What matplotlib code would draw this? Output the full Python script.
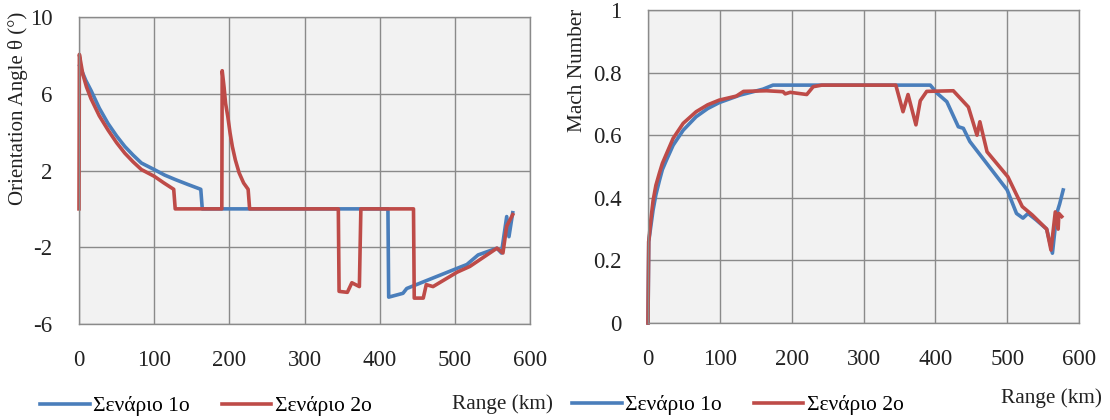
import matplotlib
matplotlib.use("Agg")
import matplotlib.pyplot as plt

plt.rcParams['font.family'] = ['Liberation Serif', 'DejaVu Serif']
plt.rcParams['font.size'] = 15
plt.rcParams['axes.unicode_minus'] = False

# ----------------------------
# DATOS: ángulo de orientación
# ----------------------------
ang_x1 = [1, 2.7, 9, 16, 27, 38.6, 50, 61, 72, 83, 100, 114, 128, 145, 162,
          164, 411, 412, 431, 436, 503, 516, 531, 556, 562, 569, 572, 577]
ang_y1 = [7.45, 7.29, 6.7, 6.17, 5.25, 4.45, 3.8, 3.25, 2.8, 2.39, 2.05, 1.76,
          1.53, 1.27, 1.02, 0, 0, -4.6, -4.4, -4.15, -3.1, -2.9, -2.4, -2.05,
          -2.3, -0.4, -1.45, -0.2]

ang_x2 = [0, 0.5, 5, 10, 16, 27, 38.6, 50, 61, 72, 83, 100, 113, 126, 128,
          190, 190.5, 193, 195, 198, 201, 204, 208, 213, 219, 225, 227, 345,
          346, 357, 363, 373, 375, 445, 446, 458, 462, 471, 503, 520, 556,
          564, 569, 573, 577]
ang_y2 = [0, 8.05, 7.03, 6.35, 5.74, 4.85, 4.11, 3.45, 2.9, 2.45, 2.05, 1.7,
          1.35, 1.02, 0, 0, 7.2, 6.34, 5.5, 4.8, 3.95, 3.25, 2.55, 1.88, 1.35,
          1.02, 0, 0, -4.3, -4.35, -3.85, -4.05, 0, 0, -4.65, -4.65, -3.95,
          -4.05, -3.3, -3.0, -2.05, -2.3, -0.9, -0.6, -0.3]

# ----------------------------
# DATOS: número de Mach
# ----------------------------
mach_x1 = [0, 1, 4, 7, 11, 16, 20, 25.6, 35, 49, 67, 83, 99, 128, 160, 174,
           393, 402, 416, 432, 439, 448, 500, 513, 522, 529, 540, 555, 563,
           569, 573, 578]
mach_y1 = [0, 0.26, 0.31, 0.36, 0.41, 0.456, 0.49, 0.52, 0.568, 0.616,
           0.659, 0.685, 0.704, 0.728, 0.747, 0.76, 0.76, 0.735, 0.707, 0.627,
           0.622, 0.58, 0.425, 0.35, 0.335, 0.35, 0.33, 0.3, 0.223, 0.35,
           0.38, 0.425]

mach_x2 = [0, 1, 4, 7, 11, 16, 20, 25.6, 35, 49, 67, 83, 99, 123, 133, 165,
           188, 191, 198, 221, 230, 242, 345, 355, 362, 373, 379, 388, 425,
           446, 458, 462, 472, 501, 521, 535, 555, 561, 567, 571, 572, 576]
mach_y2 = [0, 0.26, 0.33, 0.39, 0.44, 0.48, 0.51, 0.54, 0.59, 0.638, 0.675,
           0.697, 0.712, 0.725, 0.74, 0.742, 0.739, 0.732, 0.737, 0.73, 0.755,
           0.76, 0.76, 0.675, 0.73, 0.633, 0.71, 0.74, 0.742, 0.69, 0.6,
           0.643, 0.547, 0.467, 0.372, 0.345, 0.3, 0.233, 0.355, 0.3, 0.35,
           0.34]

etiquetas = ["Σενάριο 1ο", "Σενάριο 2ο"]
x_ticks = [0, 100, 200, 300, 400, 500, 600]
ang_ticks = [-6, -2, 2, 6, 10]
mach_ticks = [0, 0.2, 0.4, 0.6, 0.8, 1]
mach_labels = ["0", "0.2", "0.4", "0.6", "0.8", "1"]

AZUL = "#4A7EBB"
ROJO = "#BE4B48"
GRIS = "#8A8A8A"
TEXTO = "#222222"
LW = 2.6

W, H = 1110, 420
fig = plt.figure(figsize=(W / 100, H / 100), dpi=100)

ax1 = fig.add_axes([79 / W, 1 - 324 / H, (530 - 79) / W, (324 - 17) / H])
ax2 = fig.add_axes([648 / W, 1 - 323 / H, (1079 - 648) / W, (323 - 10) / H])


def estilo(ax):
    ax.set_facecolor("#F2F2F2")
    ax.grid(True, color=GRIS, linewidth=1)
    ax.set_axisbelow(True)
    for s in ax.spines.values():
        s.set_color(GRIS)
        s.set_linewidth(1)
    ax.tick_params(length=0, labelsize=16.5, colors=TEXTO)
    ax.tick_params(axis="x", pad=19)
    ax.tick_params(axis="y", pad=19)


l1, = ax1.plot(ang_x1, ang_y1, color=AZUL, linewidth=LW, clip_on=False)
l2, = ax1.plot(ang_x2, ang_y2, color=ROJO, linewidth=LW, clip_on=False)
ax1.set_xlim(0, 600)
ax1.set_ylim(-6, 10)
ax1.set_xticks(x_ticks)
ax1.set_yticks(ang_ticks)
estilo(ax1)

ax2.plot(mach_x1, mach_y1, color=AZUL, linewidth=LW, clip_on=False)
ax2.plot(mach_x2, mach_y2, color=ROJO, linewidth=LW, clip_on=False)
ax2.set_xlim(0, 600)
ax2.set_ylim(0, 1)
ax2.set_xticks(x_ticks)
ax2.set_yticks(mach_ticks)
ax2.set_yticklabels(mach_labels)
estilo(ax2)

# etiquetas de ejes
fig.text(18 / W, 1 - 12 / H, "Orientation Angle θ (°)", rotation=90,
         ha="center", va="top", fontsize=15, color=TEXTO)
fig.text(578 / W, 1 - 9 / H, "Mach Number", rotation=90,
         ha="center", va="top", fontsize=15.3, color=TEXTO)
fig.text(502 / W, 1 - 404 / H, "Range (km)", ha="center", va="center",
         fontsize=15.3, color=TEXTO)
fig.text(1051 / W, 1 - 398 / H, "Range (km)", ha="center", va="center",
         fontsize=15.3, color=TEXTO)

# leyendas
for x0, y0 in [(40, 406), (572, 405)]:
    fig.legend([l1, l2], etiquetas, loc="center left",
               bbox_to_anchor=(x0 / W, 1 - y0 / H), bbox_transform=fig.transFigure,
               ncol=2, frameon=False, borderpad=0, borderaxespad=0,
               handlelength=2.3, handletextpad=0.15, columnspacing=1.5,
               fontsize=15.5)

fig.savefig("out.png", dpi=100)
